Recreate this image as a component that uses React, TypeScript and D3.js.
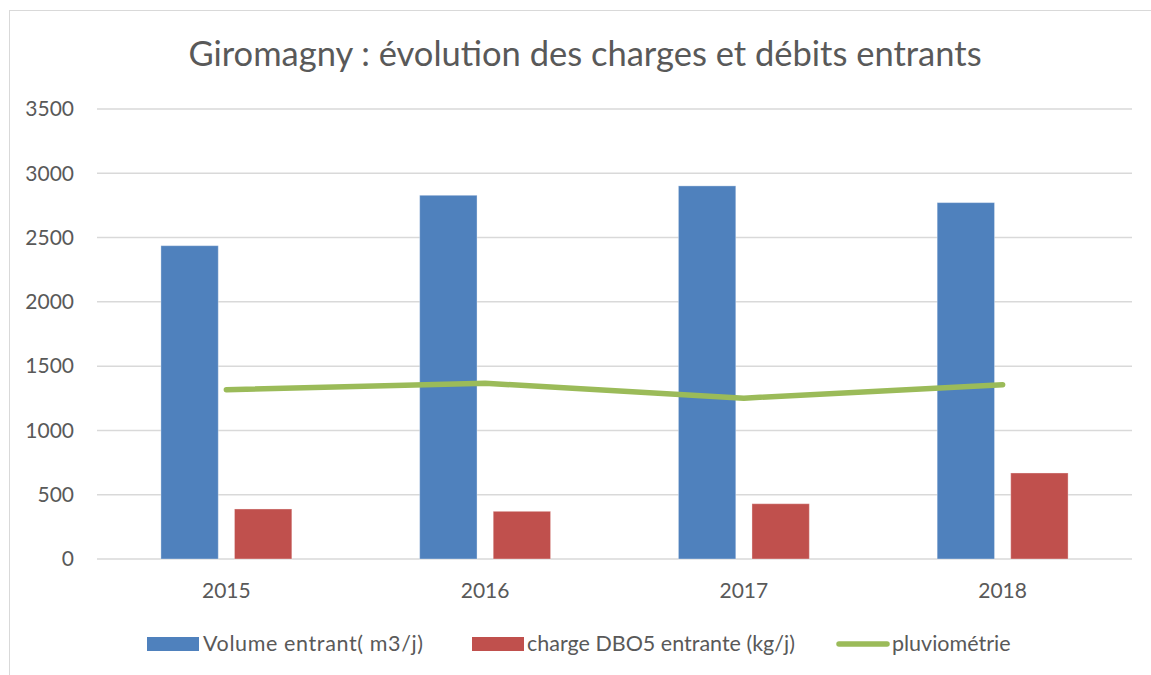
import React from "react";
import * as d3 from "d3";

const years = ["2015", "2016", "2017", "2018"];
const volume = [2437, 2829, 2902, 2772];
const dbo5 = [389, 371, 430, 669];
const pluvio = [1317, 1367, 1251, 1356];
const yTicks = [0, 500, 1000, 1500, 2000, 2500, 3000, 3500];
const seriesNames = ["Volume entrant( m3/j)", "charge DBO5 entrante (kg/j)", "pluviométrie"];

const W = 1151;
const H = 675;
const margin = { top: 109, right: 19, bottom: 116, left: 97 };
const font = "Lato, 'Open Sans', sans-serif";
const textColor = "#595959";
const blue = "#4F81BD";
const red = "#C0504D";
const green = "#9BBB59";

const App = () => {
  const innerW = W - margin.left - margin.right;
  const innerH = H - margin.top - margin.bottom;

  const x = d3.scaleBand().domain(years).range([0, innerW]).padding(0);
  const y = d3.scaleLinear().domain([0, 3500]).range([innerH, 0]);

  // two bars per year, centred in the band with a small gap between them
  const groupW = x.bandwidth() * 0.506;
  const x1 = d3
    .scaleBand()
    .domain(["vol", "dbo"])
    .range([(x.bandwidth() - groupW) / 2, (x.bandwidth() + groupW) / 2])
    .paddingInner(0.22);

  const line = d3
    .line<number>()
    .x((d, i) => x(years[i])! + x.bandwidth() / 2)
    .y((d) => y(d));

  return (
    <svg width={W} height={H} style={{ display: "block", position: "absolute", left: 0, top: 0 }}>
      <rect x={0} y={0} width={W} height={H} fill="#fff" />
      <rect x={9.5} y={10.5} width={W + 20} height={H + 20} fill="#fff" stroke="#D9D9D9" strokeWidth={1} />

      <text
        x={585}
        y={66}
        textAnchor="middle"
        fontFamily={font}
        fontSize={34.5}
        fill={textColor}
      >
        Giromagny : évolution des charges et débits entrants
      </text>

      <g transform={`translate(${margin.left},${margin.top})`}>
        {yTicks.map((t) => (
          <g key={t}>
            <line x1={0} x2={innerW} y1={y(t)} y2={y(t)} stroke="#D9D9D9" strokeWidth={1.5} />
            <text
              x={-23}
              y={y(t)}
              dy="0.35em"
              textAnchor="end"
              fontFamily={font}
              fontSize={21}
              fill={textColor}
            >
              {t}
            </text>
          </g>
        ))}

        {years.map((yr, i) => (
          <g key={yr} transform={`translate(${x(yr)},0)`}>
            <rect
              x={x1("vol")}
              y={y(volume[i])}
              width={x1.bandwidth()}
              height={innerH - y(volume[i])}
              fill={blue}
              stroke="#fff"
              strokeOpacity={0.35}
              strokeWidth={1}
            />
            <rect
              x={x1("dbo")}
              y={y(dbo5[i])}
              width={x1.bandwidth()}
              height={innerH - y(dbo5[i])}
              fill={red}
              stroke="#fff"
              strokeOpacity={0.35}
              strokeWidth={1}
            />
            <text
              x={x.bandwidth() / 2}
              y={innerH + 39}
              textAnchor="middle"
              fontFamily={font}
              fontSize={21}
              fill={textColor}
            >
              {yr}
            </text>
          </g>
        ))}

        <path
          d={line(pluvio) || ""}
          fill="none"
          stroke={green}
          strokeWidth={5.5}
          strokeLinecap="round"
          strokeLinejoin="round"
        />
      </g>

      {/* legend */}
      <g fontFamily={font} fontSize={21.5} fill={textColor}>
        <rect x={147} y={637} width={52} height={14} fill={blue} />
        <text x={203} y={651} textLength={220} lengthAdjust="spacing">{seriesNames[0]}</text>
        <rect x={472} y={637} width={52} height={14} fill={red} />
        <text x={527} y={651}>{seriesNames[1]}</text>
        <line x1={839} x2={887} y1={644} y2={644} stroke={green} strokeWidth={5.5} strokeLinecap="round" />
        <text x={892} y={651}>{seriesNames[2]}</text>
      </g>
    </svg>
  );
};

export default App;
